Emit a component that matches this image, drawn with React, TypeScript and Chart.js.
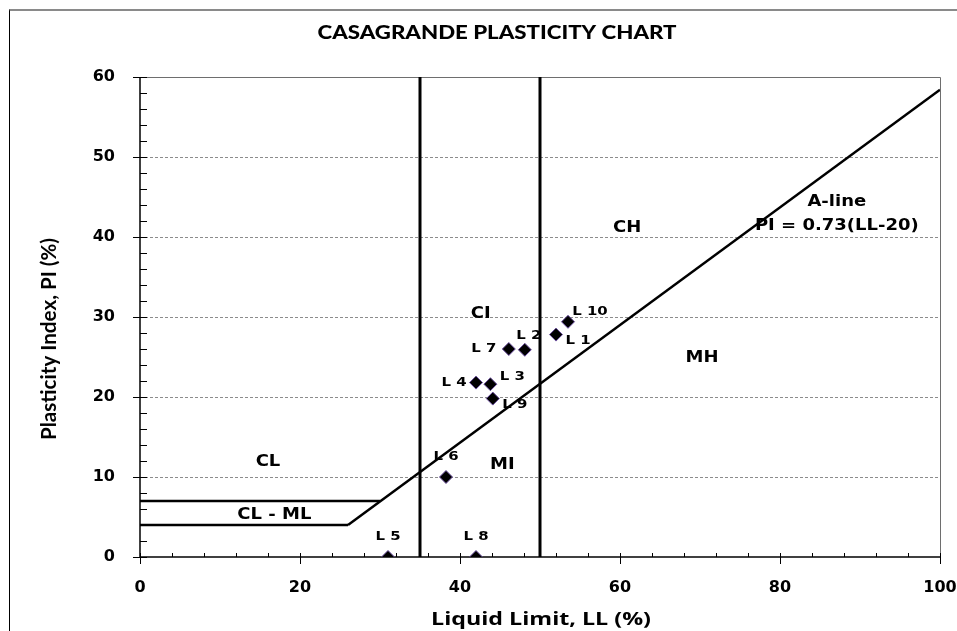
import React, { useEffect, useRef } from "react";
import { Chart, registerables } from "chart.js";

Chart.register(...registerables);

// ---------- data ----------
const SAMPLE_NAMES = ["L 1", "L 2", "L 3", "L 4", "L 5", "L 6", "L 7", "L 8", "L 9", "L 10"];
const LIQUID_LIMIT = [52, 48.1, 43.8, 42, 31, 38.25, 46.1, 42, 44.1, 53.5];
const PLASTICITY_INDEX = [27.8, 25.9, 21.6, 21.8, 0, 10, 26, 0, 19.8, 29.4];

const A_LINE_LL = [26, 100];
const A_LINE_PI = [4, 58.4];
const CL_ML_LOWER_LL = [0, 26];
const CL_ML_LOWER_PI = [4, 4];
const CL_ML_UPPER_LL = [0, 30];
const CL_ML_UPPER_PI = [7, 7];
const LL_BOUNDARIES = [35, 50];
const PI_RANGE = [0, 60];

const X_TICKS = [0, 20, 40, 60, 80, 100];
const Y_TICKS = [0, 10, 20, 30, 40, 50, 60];
const X_MINOR_STEP = 4;
const Y_MINOR_STEP = 2;

const ZONE_LABELS = ["CL", "CL - ML", "CI", "MI", "CH", "MH", "A-line", "PI = 0.73(LL-20)"];
const ZONE_LL = [16, 16.8, 42.6, 45.3, 60.9, 70.25, 87.1, 87.1];
const ZONE_PI = [11.8, 5.2, 30.4, 11.5, 41.1, 24.9, 44.3, 41.4];

const TITLE = "CASAGRANDE PLASTICITY CHART";
const X_TITLE = "Liquid Limit, LL (%)";
const Y_TITLE = "Plasticity Index, PI (%)";

// pixel offsets of each sample's label from its marker
const LABEL_OFFSETS: [number, number][] = [
  [22, 6], [4, -14], [22, -8], [-22, 0], [0, -20],
  [0, -20], [-25, 0], [0, -20], [22, 6], [22, -10],
];

const pts = (xs: number[], ys: number[]) => xs.map((x, i) => ({ x, y: ys[i] }));

const stretchText = (ctx: CanvasRenderingContext2D, text: string, x: number, y: number, sx: number) => {
  ctx.save();
  ctx.translate(x, y);
  ctx.scale(sx, 1);
  ctx.fillText(text, 0, 0);
  ctx.restore();
};

const fitText = (ctx: CanvasRenderingContext2D, text: string, x: number, y: number, width: number) => {
  const w = ctx.measureText(text).width || width;
  stretchText(ctx, text, x, y, width / w);
};

const drawPlugin = {
  id: "casagrandeDecor",
  beforeDatasetsDraw(chart: any) {
    const { ctx, chartArea: a, scales } = chart;
    const x = scales.x;
    const y = scales.y;
    const px = (v: number) => x.getPixelForValue(v);
    const py = (v: number) => y.getPixelForValue(v);
    const line = (x1: number, y1: number, x2: number, y2: number) => {
      ctx.beginPath();
      ctx.moveTo(x1, y1);
      ctx.lineTo(x2, y2);
      ctx.stroke();
    };
    ctx.save();
    ctx.strokeStyle = "#8c8c8c";
    ctx.lineWidth = 1;
    ctx.setLineDash([3, 2]);
    for (const v of Y_TICKS) {
      if (v === Y_TICKS[0] || v === Y_TICKS[Y_TICKS.length - 1]) continue;
      const yy = Math.round(py(v)) + 0.5;
      line(a.left, yy, a.right, yy);
    }
    ctx.setLineDash([]);
    ctx.strokeStyle = "#6e6e6e";
    ctx.lineWidth = 1;
    const topY = Math.round(py(PI_RANGE[1])) + 0.5;
    const rightX = Math.round(px(X_TICKS[X_TICKS.length - 1])) + 0.5;
    line(a.left, topY, rightX, topY);
    line(rightX, topY, rightX, py(0));
    ctx.strokeStyle = "#000";
    ctx.lineWidth = 1.5;
    const x0 = px(0);
    const y0 = py(0);
    line(x0, y0 + 0.5, x0, topY);
    line(x0, y0, rightX, y0);
    ctx.lineWidth = 1;
    for (let v = 0; v <= PI_RANGE[1]; v += Y_MINOR_STEP) {
      const yy = Math.round(py(v)) + 0.5;
      if (Y_TICKS.includes(v)) line(x0 - 7, yy, x0 + 7, yy);
      else line(x0, yy, x0 + 7, yy);
    }
    for (let v = 0; v <= 100; v += X_MINOR_STEP) {
      const xx = Math.round(px(v)) + 0.5;
      if (X_TICKS.includes(v)) line(xx, y0 - 4, xx, y0 + 7);
      else line(xx, y0 - 4, xx, y0);
    }
    ctx.restore();
  },
  afterDatasetsDraw(chart: any) {
    const { ctx, scales } = chart;
    const x = scales.x;
    const y = scales.y;
    ctx.save();
    ctx.fillStyle = "#000";
    ctx.textAlign = "center";
    ctx.textBaseline = "middle";
    ctx.font = "bold 13px 'DejaVu Sans'";
    SAMPLE_NAMES.forEach((name, i) => {
      const [dx, dy] = LABEL_OFFSETS[i];
      stretchText(ctx, name, x.getPixelForValue(LIQUID_LIMIT[i]) + dx, y.getPixelForValue(PLASTICITY_INDEX[i]) + dy, 1.15);
    });
    ctx.font = "bold 15px 'DejaVu Sans'";
    ZONE_LABELS.forEach((t, i) => {
      stretchText(ctx, t, x.getPixelForValue(ZONE_LL[i]), y.getPixelForValue(ZONE_PI[i]), 1.2);
    });
    ctx.font = "900 18px Lato";
    fitText(ctx, TITLE, 497, 33, 359);
    ctx.font = "bold 18px 'Open Sans'";
    fitText(ctx, X_TITLE, 541, 620, 220);
    ctx.save();
    ctx.translate(50, 339);
    ctx.rotate(-Math.PI / 2);
    ctx.font = "bold 20px Lato";
    fitText(ctx, Y_TITLE, 0, 0, 202);
    ctx.restore();
    ctx.restore();
  },
};

export default function App() {
  const ref = useRef<HTMLCanvasElement | null>(null);

  useEffect(() => {
    if (!ref.current) return;
    const lineStyle = {
      showLine: true,
      pointRadius: 0,
      pointHoverRadius: 0,
      borderColor: "#000",
      borderWidth: 2.5,
      fill: false,
    };
    const tickFont = { family: "'DejaVu Sans'", size: 16, weight: "bold" };
    const chart = new Chart(ref.current, {
      type: "scatter",
      data: {
        datasets: [
          { ...lineStyle, label: "A-line", data: pts(A_LINE_LL, A_LINE_PI) },
          { ...lineStyle, label: "CL-ML lower", data: pts(CL_ML_LOWER_LL, CL_ML_LOWER_PI) },
          { ...lineStyle, label: "CL-ML upper", data: pts(CL_ML_UPPER_LL, CL_ML_UPPER_PI) },
          { ...lineStyle, borderWidth: 3, label: "LL 35", data: pts([LL_BOUNDARIES[0], LL_BOUNDARIES[0]], PI_RANGE) },
          { ...lineStyle, borderWidth: 3, label: "LL 50", data: pts([LL_BOUNDARIES[1], LL_BOUNDARIES[1]], PI_RANGE) },
          {
            label: "Samples",
            data: pts(LIQUID_LIMIT, PLASTICITY_INDEX),
            showLine: false,
            pointStyle: "rectRot",
            pointRadius: 6.5,
            backgroundColor: "#000",
            borderColor: "#6b4f9e",
            borderWidth: 1,
          },
        ],
      },
      options: {
        animation: false,
        responsive: false,
        devicePixelRatio: 1,
        layout: { padding: { left: 10, top: 77, right: 17, bottom: 0 } },
        plugins: { legend: { display: false }, tooltip: { enabled: false }, title: { display: false } },
        scales: {
          x: {
            type: "linear",
            min: 0,
            max: 100,
            afterFit: (s: any) => {
              s.height = 74;
              s.paddingLeft = 0;
              s.paddingRight = 0;
            },
            afterBuildTicks: (s: any) => { s.ticks = X_TICKS.map((v) => ({ value: v })); },
            grid: { display: false, drawTicks: false },
            border: { display: false },
            ticks: { padding: 21, color: "#000", font: tickFont, maxRotation: 0 },
          },
          y: {
            type: "linear",
            min: 0,
            max: 60,
            afterFit: (s: any) => {
              s.width = 130;
              s.paddingTop = 0;
              s.paddingBottom = 0;
            },
            afterBuildTicks: (s: any) => { s.ticks = Y_TICKS.map((v) => ({ value: v })); },
            grid: { display: false, drawTicks: false },
            border: { display: false },
            ticks: { padding: 25, color: "#000", font: tickFont },
          },
        },
      },
      plugins: [drawPlugin],
    } as any);
    return () => chart.destroy();
  }, []);

  return (
    <div style={{ position: "fixed", left: 0, top: 0, width: 957, height: 631, overflow: "hidden", background: "#fff" }}>
      <div
        style={{
          position: "absolute",
          left: 9,
          top: 9,
          width: 1000,
          height: 700,
          borderLeft: "1px solid #000",
          borderTop: "2px solid #8a8a8a",
        }}
      />
      <canvas ref={ref} width={957} height={631} style={{ position: "absolute", left: 0, top: 0, width: 957, height: 631 }} />
    </div>
  );
}
